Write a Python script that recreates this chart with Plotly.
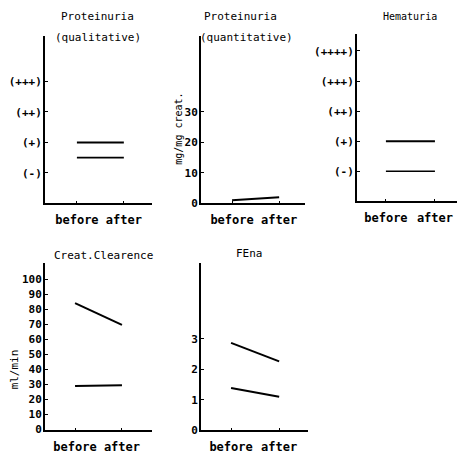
import plotly.graph_objects as go

W, H = 463, 454

# ---- data ----
categories = ["before", "after"]
cat_pos = [1, 2]

qual_tick_vals = [1, 2, 3, 4]
qual_tick_text = ["(-)", "(+)", "(++)", "(+++)"]
prot_qual_a = [2.0, 2.0]
prot_qual_b = [1.5, 1.5]

quant_tick_vals = [0, 10, 20, 30]
prot_quant_a = [1.0, 2.0]

hema_tick_vals = [1, 2, 3, 4, 5]
hema_tick_text = ["(-)", "(+)", "(++)", "(+++)", "(++++)"]
hema_a = [2.0, 2.0]
hema_b = [1.0, 1.0]

creat_tick_vals = [0, 10, 20, 30, 40, 50, 60, 70, 80, 90, 100]
creat_a = [84, 69.5]
creat_b = [29, 29.5]

fena_tick_vals = [0, 1, 2, 3]
fena_a = [2.87, 2.26]
fena_b = [1.39, 1.10]

# ---- helpers ----
def px_x(x):
    return x / W

def px_y(y):
    return 1 - y / H

FONT = "DejaVu Sans Mono"
BLACK = "black"

fig = go.Figure()

panels = [
    dict(dom=(45, 152, 37, 207), xr=[0.32, 2.6], yr=[0, 5.48],
         tv=qual_tick_vals, tt=qual_tick_text, series=[prot_qual_a, prot_qual_b],
         widths=[2, 1.6]),
    dict(dom=(201, 305, 37, 207), xr=[0.34, 2.55], yr=[0, 54.8],
         tv=quant_tick_vals, tt=[str(v) for v in quant_tick_vals], series=[prot_quant_a],
         widths=[2]),
    dict(dom=(357, 457, 35, 205), xr=[0.41, 2.45], yr=[0, 5.55],
         tv=hema_tick_vals, tt=hema_tick_text, series=[hema_a, hema_b],
         widths=[2, 1.6]),
    dict(dom=(45, 152, 268, 438), xr=[0.36, 2.64], yr=[-0.5, 110.5],
         tv=creat_tick_vals, tt=[str(v) for v in creat_tick_vals], series=[creat_a, creat_b],
         widths=[2, 2]),
    dict(dom=(201, 308, 268, 438), xr=[0.375, 2.6], yr=[0, 5.48],
         tv=fena_tick_vals, tt=[str(v) for v in fena_tick_vals], series=[fena_a, fena_b],
         widths=[2, 2]),
]

layout = dict(
    width=W, height=H,
    margin=dict(l=0, r=0, t=0, b=0),
    paper_bgcolor="white", plot_bgcolor="white",
    showlegend=False,
)

for i, p in enumerate(panels, start=1):
    sfx = "" if i == 1 else str(i)
    x0, x1, yt, yb = p["dom"]
    for s, w in zip(p["series"], p["widths"]):
        fig.add_trace(go.Scatter(
            x=cat_pos, y=s, mode="lines",
            line=dict(color=BLACK, width=w),
            xaxis="x" + sfx, yaxis="y" + sfx, hoverinfo="skip",
        ))
    layout["xaxis" + sfx] = dict(
        domain=[px_x(x0), px_x(x1)], anchor="y" + sfx, range=p["xr"],
        tickvals=cat_pos, ticktext=categories,
        showline=True, linecolor=BLACK, linewidth=1.8,
        ticks="inside", ticklen=2, tickcolor=BLACK, tickwidth=1,
        ticklabelstandoff=4,
        showgrid=False, zeroline=False,
        tickfont=dict(family=FONT, size=12, color=BLACK, weight="bold"),
        fixedrange=True,
    )
    layout["yaxis" + sfx] = dict(
        domain=[px_y(yb), px_y(yt)], anchor="x" + sfx, range=p["yr"],
        tickvals=p["tv"], ticktext=p["tt"],
        showline=True, linecolor=BLACK, linewidth=2,
        ticks="inside", ticklen=3, tickcolor=BLACK, tickwidth=1,
        ticklabelstandoff=-1,
        showgrid=False, zeroline=False,
        tickfont=dict(family=FONT, size=11, color=BLACK, weight="bold"),
        fixedrange=True,
    )

fig.update_layout(**layout)

ann = [
    ("Proteinuria", 97, 17, 11, 0),
    ("(qualitative)", 98, 38, 11, 0),
    ("Proteinuria", 240, 17, 11, 0),
    ("(quantitative)", 246, 38, 11, 0),
    ("Hematuria", 410, 17, 10, 0),
    ("Creat.Clearence", 103, 260, 11, 0),
    ("FEna", 250, 258, 11, 0),
    ("mg/mg creat.", 179, 131, 10, -90),
    ("ml/min", 14, 376, 11, -90),
]
for text, x, y, size, ang in ann:
    fig.add_annotation(
        text=text, x=px_x(x), y=px_y(y), xref="paper", yref="paper",
        showarrow=False, xanchor="center", yanchor="middle", textangle=ang,
        font=dict(family=FONT, size=size, color=BLACK),
    )

fig.write_html("out.html", config={"displayModeBar": False},
               post_script="document.body.style.margin='0';")
